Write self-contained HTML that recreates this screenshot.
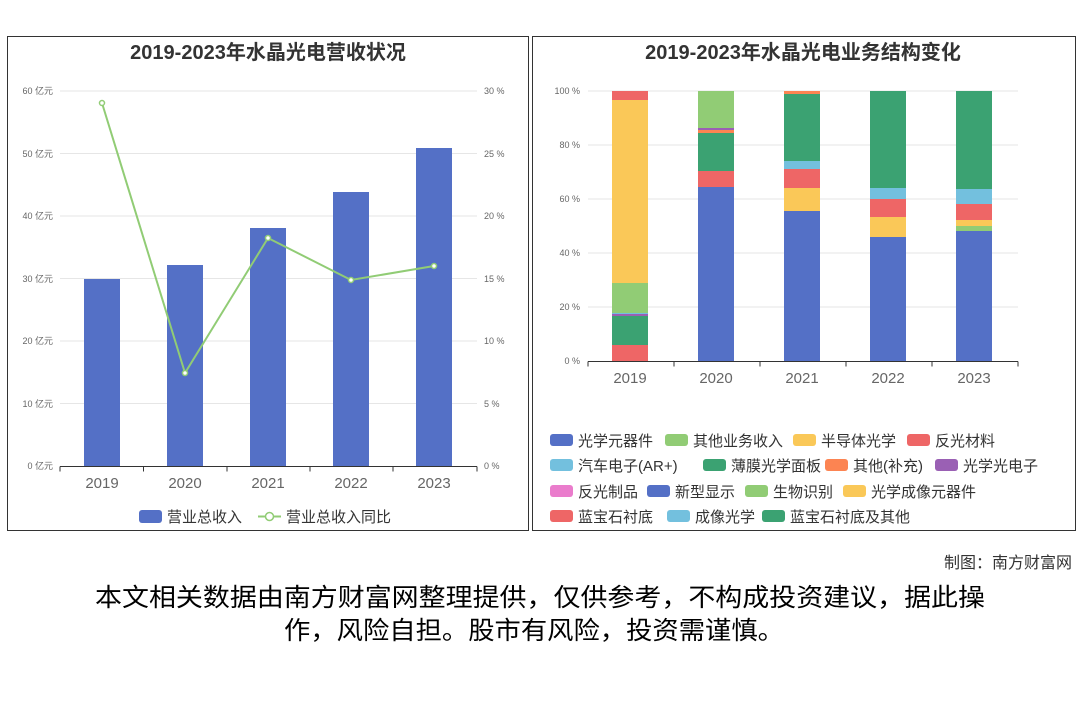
<!DOCTYPE html><html><head><meta charset="utf-8"><style>
body{margin:0;width:1080px;height:720px;background:#fff;overflow:hidden;font-family:"Liberation Sans","Noto Sans CJK SC",sans-serif}
svg text{font-family:"Liberation Sans","Noto Sans CJK SC",sans-serif}
</style></head><body>
<svg width="1080" height="720" viewBox="0 0 1080 720">
<rect x="7.5" y="36.5" width="521" height="494" fill="none" stroke="#333"/>
<rect x="532.5" y="36.5" width="543" height="494" fill="none" stroke="#333"/>
<text x="268" y="59" font-size="20" font-weight="bold" fill="#333" text-anchor="middle">2019-2023年水晶光电营收状况</text>
<text x="803" y="59" font-size="20" font-weight="bold" fill="#333" text-anchor="middle">2019-2023年水晶光电业务结构变化</text>
<g stroke="#e6e6e6">
<line x1="60" x2="477" y1="91" y2="91"/><line x1="60" x2="477" y1="153.5" y2="153.5"/><line x1="60" x2="477" y1="216" y2="216"/><line x1="60" x2="477" y1="278.5" y2="278.5"/><line x1="60" x2="477" y1="341" y2="341"/><line x1="60" x2="477" y1="403.5" y2="403.5"/>
<line x1="588" x2="1018" y1="91" y2="91"/><line x1="588" x2="1018" y1="145" y2="145"/><line x1="588" x2="1018" y1="199" y2="199"/><line x1="588" x2="1018" y1="253" y2="253"/><line x1="588" x2="1018" y1="307" y2="307"/>
</g>
<g font-size="9" fill="#666" text-anchor="end">
<text x="53" y="94">60 亿元</text><text x="53" y="157">50 亿元</text><text x="53" y="219">40 亿元</text><text x="53" y="282">30 亿元</text><text x="53" y="344">20 亿元</text><text x="53" y="407">10 亿元</text><text x="53" y="469">0 亿元</text>
<text x="580" y="94">100 %</text><text x="580" y="148">80 %</text><text x="580" y="202">60 %</text><text x="580" y="256">40 %</text><text x="580" y="310">20 %</text><text x="580" y="364">0 %</text>
</g>
<g font-size="9" fill="#666">
<text x="484" y="94">30 %</text><text x="484" y="157">25 %</text><text x="484" y="219">20 %</text><text x="484" y="282">15 %</text><text x="484" y="344">10 %</text><text x="484" y="407">5 %</text><text x="484" y="469">0 %</text>
</g>
<g fill="#5470c6">
<rect x="84" y="279" width="36" height="187"/><rect x="167" y="265" width="36" height="201"/><rect x="250" y="228" width="36" height="238"/><rect x="333" y="192" width="36" height="274"/><rect x="416" y="148" width="36" height="318"/>
</g>
<g stroke="#333" fill="none"><path d="M60 466.5H477M60 466.5v5M143.5 466.5v5M227 466.5v5M310 466.5v5M393 466.5v5M477 466.5v5"/>
<path d="M588 361.5H1018M588 361.5v5M674 361.5v5M760 361.5v5M846 361.5v5M932 361.5v5M1018 361.5v5"/></g>
<polyline points="102,103 185,373 268,238 351,280 434,266" fill="none" stroke="#91cc75" stroke-width="2"/>
<g fill="#fff" stroke="#91cc75" stroke-width="1.5"><circle cx="102" cy="103" r="2.5"/><circle cx="185" cy="373" r="2.5"/><circle cx="268" cy="238" r="2.5"/><circle cx="351" cy="280" r="2.5"/><circle cx="434" cy="266" r="2.5"/></g>
<g font-size="15" fill="#666" text-anchor="middle">
<text x="102" y="488">2019</text><text x="185" y="488">2020</text><text x="268" y="488">2021</text><text x="351" y="488">2022</text><text x="434" y="488">2023</text>
<text x="630" y="383">2019</text><text x="716" y="383">2020</text><text x="802" y="383">2021</text><text x="888" y="383">2022</text><text x="974" y="383">2023</text>
</g>
<g>
<rect x="612" y="345" width="36" height="16" fill="#ee6666"/><rect x="612" y="316" width="36" height="29" fill="#3ba272"/><rect x="612" y="314" width="36" height="2" fill="#9a60b4"/><rect x="612" y="313" width="36" height="1" fill="#73c0de"/><rect x="612" y="283" width="36" height="30" fill="#91cc75"/><rect x="612" y="100" width="36" height="183" fill="#fac858"/><rect x="612" y="91" width="36" height="9" fill="#ee6666"/>
<rect x="698" y="187" width="36" height="174" fill="#5470c6"/><rect x="698" y="171" width="36" height="16" fill="#ee6666"/><rect x="698" y="133" width="36" height="38" fill="#3ba272"/><rect x="698" y="130" width="36" height="3" fill="#fc8452"/><rect x="698" y="128" width="36" height="2" fill="#9a60b4"/><rect x="698" y="91" width="36" height="37" fill="#91cc75"/>
<rect x="784" y="211" width="36" height="150" fill="#5470c6"/><rect x="784" y="188" width="36" height="23" fill="#fac858"/><rect x="784" y="169" width="36" height="19" fill="#ee6666"/><rect x="784" y="161" width="36" height="8" fill="#73c0de"/><rect x="784" y="94" width="36" height="67" fill="#3ba272"/><rect x="784" y="91" width="36" height="3" fill="#fc8452"/>
<rect x="870" y="237" width="36" height="124" fill="#5470c6"/><rect x="870" y="217" width="36" height="20" fill="#fac858"/><rect x="870" y="199" width="36" height="18" fill="#ee6666"/><rect x="870" y="188" width="36" height="11" fill="#73c0de"/><rect x="870" y="91" width="36" height="97" fill="#3ba272"/>
<rect x="956" y="231" width="36" height="130" fill="#5470c6"/><rect x="956" y="226" width="36" height="5" fill="#91cc75"/><rect x="956" y="220" width="36" height="6" fill="#fac858"/><rect x="956" y="204" width="36" height="16" fill="#ee6666"/><rect x="956" y="189" width="36" height="15" fill="#73c0de"/><rect x="956" y="91" width="36" height="98" fill="#3ba272"/>
</g>
<rect x="139" y="510" width="23" height="13" rx="3" fill="#5470c6"/>
<text x="167" y="522" font-size="15" fill="#333">营业总收入</text>
<line x1="258" x2="281" y1="516.5" y2="516.5" stroke="#91cc75" stroke-width="2"/><circle cx="269.5" cy="516.5" r="4" fill="#fff" stroke="#91cc75" stroke-width="1.5"/>
<text x="286" y="522" font-size="15" fill="#333">营业总收入同比</text>
<g font-size="15" fill="#333">
<rect x="550" y="434" width="23" height="12" rx="3" fill="#5470c6"/><text x="578" y="446">光学元器件</text>
<rect x="665" y="434" width="23" height="12" rx="3" fill="#91cc75"/><text x="693" y="446">其他业务收入</text>
<rect x="793" y="434" width="23" height="12" rx="3" fill="#fac858"/><text x="821" y="446">半导体光学</text>
<rect x="907" y="434" width="23" height="12" rx="3" fill="#ee6666"/><text x="935" y="446">反光材料</text>
<rect x="550" y="459" width="23" height="12" rx="3" fill="#73c0de"/><text x="578" y="471">汽车电子(AR+)</text>
<rect x="703" y="459" width="23" height="12" rx="3" fill="#3ba272"/><text x="731" y="471">薄膜光学面板</text>
<rect x="825" y="459" width="23" height="12" rx="3" fill="#fc8452"/><text x="853" y="471">其他(补充)</text>
<rect x="935" y="459" width="23" height="12" rx="3" fill="#9a60b4"/><text x="963" y="471">光学光电子</text>
<rect x="550" y="485" width="23" height="12" rx="3" fill="#ea7ccc"/><text x="578" y="497">反光制品</text>
<rect x="647" y="485" width="23" height="12" rx="3" fill="#5470c6"/><text x="675" y="497">新型显示</text>
<rect x="745" y="485" width="23" height="12" rx="3" fill="#91cc75"/><text x="773" y="497">生物识别</text>
<rect x="843" y="485" width="23" height="12" rx="3" fill="#fac858"/><text x="871" y="497">光学成像元器件</text>
<rect x="550" y="510" width="23" height="12" rx="3" fill="#ee6666"/><text x="578" y="522">蓝宝石衬底</text>
<rect x="667" y="510" width="23" height="12" rx="3" fill="#73c0de"/><text x="695" y="522">成像光学</text>
<rect x="762" y="510" width="23" height="12" rx="3" fill="#3ba272"/><text x="790" y="522">蓝宝石衬底及其他</text>
</g>
<text x="1072" y="568" font-size="16" fill="#333" text-anchor="end">制图：南方财富网</text>
<text x="95" y="606" font-size="25" fill="#000" textLength="890" lengthAdjust="spacingAndGlyphs">本文相关数据由南方财富网整理提供，仅供参考，不构成投资建议，据此操</text>
<text x="284" y="639" font-size="25" fill="#000" textLength="500" lengthAdjust="spacingAndGlyphs">作，风险自担。股市有风险，投资需谨慎。</text>
</svg>
</body></html>
